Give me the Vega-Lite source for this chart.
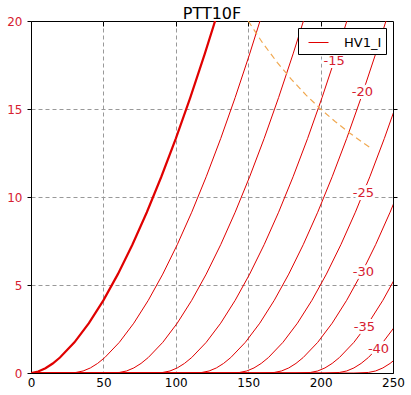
{
  "$schema": "https://vega.github.io/schema/vega-lite/v6.json",
  "width": 362,
  "height": 352,
  "autosize": "none",
  "padding": {"left": 31, "top": 21, "right": 18, "bottom": 22},
  "title": {"text": "PTT10F", "fontSize": 16, "font": "DejaVu Sans", "fontWeight": "normal", "color": "black", "offset": -7},
  "config": {
    "view": {"stroke": "black", "strokeWidth": 1},
    "font": "DejaVu Sans",
    "axis": {"labelFont": "DejaVu Sans", "labelFontSize": 12, "labelFlush": false, "labelOverlap": false, "title": null}
  },
  "datasets": {
    "curves": [
      {"Vg": 0, "Va": 0, "Ia": 0}, {"Vg": 0, "Va": 5, "Ia": 0.084}, {"Vg": 0, "Va": 10, "Ia": 0.272}, {"Vg": 0, "Va": 15, "Ia": 0.54}, {"Vg": 0, "Va": 20, "Ia": 0.878}, {"Vg": 0, "Va": 30, "Ia": 1.741}, {"Vg": 0, "Va": 40, "Ia": 2.831}, {"Vg": 0, "Va": 50, "Ia": 4.129}, {"Vg": 0, "Va": 60, "Ia": 5.618}, {"Vg": 0, "Va": 70, "Ia": 7.29}, {"Vg": 0, "Va": 80, "Ia": 9.135}, {"Vg": 0, "Va": 90, "Ia": 11.15}, {"Vg": 0, "Va": 100, "Ia": 13.32}, {"Vg": 0, "Va": 110, "Ia": 15.65}, {"Vg": 0, "Va": 120, "Ia": 18.13}, {"Vg": 0, "Va": 130, "Ia": 20.75},

      {"Vg": -5, "Va": 0, "Ia": 0}, {"Vg": -5, "Va": 21, "Ia": 0}, {"Vg": -5, "Va": 31, "Ia": 0.031}, {"Vg": -5, "Va": 36, "Ia": 0.115}, {"Vg": -5, "Va": 41, "Ia": 0.287}, {"Vg": -5, "Va": 46, "Ia": 0.545}, {"Vg": -5, "Va": 51, "Ia": 0.88}, {"Vg": -5, "Va": 61, "Ia": 1.741}, {"Vg": -5, "Va": 71, "Ia": 2.831}, {"Vg": -5, "Va": 81, "Ia": 4.129}, {"Vg": -5, "Va": 91, "Ia": 5.618}, {"Vg": -5, "Va": 101, "Ia": 7.29}, {"Vg": -5, "Va": 111, "Ia": 9.135}, {"Vg": -5, "Va": 121, "Ia": 11.15}, {"Vg": -5, "Va": 131, "Ia": 13.32}, {"Vg": -5, "Va": 141, "Ia": 15.65}, {"Vg": -5, "Va": 151, "Ia": 18.13}, {"Vg": -5, "Va": 161, "Ia": 20.75},

      {"Vg": -10, "Va": 0, "Ia": 0}, {"Vg": -10, "Va": 51, "Ia": 0}, {"Vg": -10, "Va": 61, "Ia": 0.031}, {"Vg": -10, "Va": 66, "Ia": 0.115}, {"Vg": -10, "Va": 71, "Ia": 0.287}, {"Vg": -10, "Va": 76, "Ia": 0.545}, {"Vg": -10, "Va": 81, "Ia": 0.88}, {"Vg": -10, "Va": 91, "Ia": 1.741}, {"Vg": -10, "Va": 101, "Ia": 2.831}, {"Vg": -10, "Va": 111, "Ia": 4.129}, {"Vg": -10, "Va": 121, "Ia": 5.618}, {"Vg": -10, "Va": 131, "Ia": 7.29}, {"Vg": -10, "Va": 141, "Ia": 9.135}, {"Vg": -10, "Va": 151, "Ia": 11.15}, {"Vg": -10, "Va": 161, "Ia": 13.32}, {"Vg": -10, "Va": 171, "Ia": 15.65}, {"Vg": -10, "Va": 181, "Ia": 18.13}, {"Vg": -10, "Va": 191, "Ia": 20.75},

      {"Vg": -15, "Va": 0, "Ia": 0}, {"Vg": -15, "Va": 81, "Ia": 0}, {"Vg": -15, "Va": 91, "Ia": 0.031}, {"Vg": -15, "Va": 96, "Ia": 0.115}, {"Vg": -15, "Va": 101, "Ia": 0.287}, {"Vg": -15, "Va": 106, "Ia": 0.545}, {"Vg": -15, "Va": 111, "Ia": 0.88}, {"Vg": -15, "Va": 121, "Ia": 1.741}, {"Vg": -15, "Va": 131, "Ia": 2.831}, {"Vg": -15, "Va": 141, "Ia": 4.129}, {"Vg": -15, "Va": 151, "Ia": 5.618}, {"Vg": -15, "Va": 161, "Ia": 7.29}, {"Vg": -15, "Va": 171, "Ia": 9.135}, {"Vg": -15, "Va": 181, "Ia": 11.15}, {"Vg": -15, "Va": 191, "Ia": 13.32}, {"Vg": -15, "Va": 201, "Ia": 15.65}, {"Vg": -15, "Va": 211, "Ia": 18.13}, {"Vg": -15, "Va": 221, "Ia": 20.75},

      {"Vg": -20, "Va": 0, "Ia": 0}, {"Vg": -20, "Va": 108, "Ia": 0}, {"Vg": -20, "Va": 118, "Ia": 0.031}, {"Vg": -20, "Va": 123, "Ia": 0.115}, {"Vg": -20, "Va": 128, "Ia": 0.287}, {"Vg": -20, "Va": 133, "Ia": 0.545}, {"Vg": -20, "Va": 138, "Ia": 0.88}, {"Vg": -20, "Va": 148, "Ia": 1.741}, {"Vg": -20, "Va": 158, "Ia": 2.831}, {"Vg": -20, "Va": 168, "Ia": 4.129}, {"Vg": -20, "Va": 178, "Ia": 5.618}, {"Vg": -20, "Va": 188, "Ia": 7.29}, {"Vg": -20, "Va": 198, "Ia": 9.135}, {"Vg": -20, "Va": 208, "Ia": 11.15}, {"Vg": -20, "Va": 218, "Ia": 13.32}, {"Vg": -20, "Va": 228, "Ia": 15.65}, {"Vg": -20, "Va": 238, "Ia": 18.13}, {"Vg": -20, "Va": 248, "Ia": 20.75},

      {"Vg": -25, "Va": 0, "Ia": 0}, {"Vg": -25, "Va": 134, "Ia": 0}, {"Vg": -25, "Va": 144, "Ia": 0.031}, {"Vg": -25, "Va": 149, "Ia": 0.115}, {"Vg": -25, "Va": 154, "Ia": 0.287}, {"Vg": -25, "Va": 159, "Ia": 0.545}, {"Vg": -25, "Va": 164, "Ia": 0.88}, {"Vg": -25, "Va": 174, "Ia": 1.741}, {"Vg": -25, "Va": 184, "Ia": 2.831}, {"Vg": -25, "Va": 194, "Ia": 4.129}, {"Vg": -25, "Va": 204, "Ia": 5.618}, {"Vg": -25, "Va": 214, "Ia": 7.29}, {"Vg": -25, "Va": 224, "Ia": 9.135}, {"Vg": -25, "Va": 234, "Ia": 11.15}, {"Vg": -25, "Va": 244, "Ia": 13.32}, {"Vg": -25, "Va": 254, "Ia": 15.65},

      {"Vg": -30, "Va": 0, "Ia": 0}, {"Vg": -30, "Va": 158, "Ia": 0}, {"Vg": -30, "Va": 168, "Ia": 0.031}, {"Vg": -30, "Va": 173, "Ia": 0.115}, {"Vg": -30, "Va": 178, "Ia": 0.287}, {"Vg": -30, "Va": 183, "Ia": 0.545}, {"Vg": -30, "Va": 188, "Ia": 0.88}, {"Vg": -30, "Va": 198, "Ia": 1.741}, {"Vg": -30, "Va": 208, "Ia": 2.831}, {"Vg": -30, "Va": 218, "Ia": 4.129}, {"Vg": -30, "Va": 228, "Ia": 5.618}, {"Vg": -30, "Va": 238, "Ia": 7.29}, {"Vg": -30, "Va": 248, "Ia": 9.135}, {"Vg": -30, "Va": 258, "Ia": 11.15},

      {"Vg": -35, "Va": 0, "Ia": 0}, {"Vg": -35, "Va": 183, "Ia": 0}, {"Vg": -35, "Va": 193, "Ia": 0.031}, {"Vg": -35, "Va": 198, "Ia": 0.115}, {"Vg": -35, "Va": 203, "Ia": 0.287}, {"Vg": -35, "Va": 208, "Ia": 0.545}, {"Vg": -35, "Va": 213, "Ia": 0.88}, {"Vg": -35, "Va": 223, "Ia": 1.741}, {"Vg": -35, "Va": 233, "Ia": 2.831}, {"Vg": -35, "Va": 243, "Ia": 4.129}, {"Vg": -35, "Va": 253, "Ia": 5.618},

      {"Vg": -40, "Va": 0, "Ia": 0}, {"Vg": -40, "Va": 203, "Ia": 0}, {"Vg": -40, "Va": 213, "Ia": 0.031}, {"Vg": -40, "Va": 218, "Ia": 0.115}, {"Vg": -40, "Va": 223, "Ia": 0.287}, {"Vg": -40, "Va": 228, "Ia": 0.545}, {"Vg": -40, "Va": 233, "Ia": 0.88}, {"Vg": -40, "Va": 243, "Ia": 1.741}, {"Vg": -40, "Va": 253, "Ia": 2.831},

      {"Vg": -45, "Va": 0, "Ia": 0}, {"Vg": -45, "Va": 223, "Ia": 0}, {"Vg": -45, "Va": 233, "Ia": 0.031}, {"Vg": -45, "Va": 238, "Ia": 0.115}, {"Vg": -45, "Va": 243, "Ia": 0.287}, {"Vg": -45, "Va": 248, "Ia": 0.545}, {"Vg": -45, "Va": 253, "Ia": 0.88}
    ],
    "limit": [
      {"Va": 150, "Ia": 20}, {"Va": 160, "Ia": 18.75}, {"Va": 170, "Ia": 17.65}, {"Va": 180, "Ia": 16.67}, {"Va": 190, "Ia": 15.79}, {"Va": 200, "Ia": 15}, {"Va": 210, "Ia": 14.29}, {"Va": 220, "Ia": 13.64}, {"Va": 230, "Ia": 13.04}, {"Va": 235, "Ia": 12.77}
    ],
    "labels": [
      {"Va": 209.4, "Ia": 17.73, "label": "-15"},
      {"Va": 228.9, "Ia": 15.94, "label": "-20"},
      {"Va": 229.6, "Ia": 10.23, "label": "-25"},
      {"Va": 229.6, "Ia": 5.74, "label": "-30"},
      {"Va": 230.3, "Ia": 2.6, "label": "-35"},
      {"Va": 240, "Ia": 1.39, "label": "-40"}
    ]
  },
  "layer": [
    {
      "data": {"name": "curves"},
      "transform": [{"filter": "datum.Vg == 0"}],
      "mark": {"type": "line", "strokeWidth": 2.2, "clip": true, "color": "#e00000"},
      "encoding": {
        "x": {"field": "Va", "type": "quantitative", "scale": {"domain": [0, 250], "nice": false, "zero": false},
              "axis": {"orient": "bottom", "values": [50, 100, 150, 200], "labels": false, "ticks": false, "domain": false, "grid": true, "gridDash": [4, 3], "gridColor": "#999999", "gridWidth": 1}},
        "y": {"field": "Ia", "type": "quantitative", "scale": {"domain": [0, 20], "nice": false},
              "axis": {"orient": "left", "values": [5, 10, 15], "labels": false, "ticks": false, "domain": false, "grid": true, "gridDash": [4, 3], "gridColor": "#999999", "gridWidth": 1}}
      }
    },
    {
      "data": {"name": "curves"},
      "transform": [{"filter": "datum.Vg < 0"}],
      "mark": {"type": "line", "strokeWidth": 1, "clip": true},
      "encoding": {
        "x": {"field": "Va", "type": "quantitative", "scale": {"domain": [0, 250], "nice": false, "zero": false},
              "axis": {"orient": "bottom", "values": [0, 50, 100, 150, 200, 250], "grid": false, "ticks": false, "labelPadding": 4, "labelColor": "black", "domainColor": "black", "domainWidth": 1}},
        "y": {"field": "Ia", "type": "quantitative", "scale": {"domain": [0, 20], "nice": false},
              "axis": {"orient": "left", "values": [0, 5, 10, 15, 20], "grid": false, "tickSize": 4, "tickColor": "black", "labelPadding": 5, "labelColor": "#d62030", "domainColor": "black", "domainWidth": 1}},
        "detail": {"field": "Vg"},
        "color": {"datum": "HV1_I", "type": "nominal", "scale": {"range": ["#e00000"]},
                  "legend": {"orient": "top-right", "offset": 7, "title": null, "strokeColor": "black", "fillColor": "white", "padding": 4, "cornerRadius": 0, "labelFontSize": 13, "labelFont": "DejaVu Sans", "labelColor": "black", "symbolType": "stroke", "symbolSize": 400, "symbolStrokeWidth": 1, "symbolOffset": 6, "labelOffset": 15}}
      }
    },
    {
      "data": {"name": "limit"},
      "mark": {"type": "line", "strokeWidth": 1.2, "strokeDash": [6, 4], "color": "#f0a850", "clip": true},
      "encoding": {
        "x": {"field": "Va", "type": "quantitative", "scale": {"domain": [0, 250], "nice": false, "zero": false},
              "axis": {"orient": "top", "values": [50, 100, 150, 200], "labels": false, "domain": false, "grid": false, "tickSize": -5, "tickColor": "black"}},
        "y": {"field": "Ia", "type": "quantitative", "scale": {"domain": [0, 20], "nice": false},
              "axis": {"orient": "right", "values": [5, 10, 15], "labels": false, "domain": false, "grid": false, "tickSize": 4, "tickColor": "black"}}
      }
    },
    {
      "data": {"name": "labels"},
      "mark": {"type": "text", "fontSize": 13, "font": "DejaVu Sans", "stroke": "white", "strokeWidth": 6, "strokeJoin": "round", "fill": "white"},
      "encoding": {
        "x": {"field": "Va", "type": "quantitative", "scale": {"domain": [0, 250], "nice": false, "zero": false}, "axis": null},
        "y": {"field": "Ia", "type": "quantitative", "scale": {"domain": [0, 20], "nice": false}, "axis": null},
        "text": {"field": "label"}
      }
    },
    {
      "data": {"name": "labels"},
      "mark": {"type": "text", "fontSize": 13, "font": "DejaVu Sans", "fill": "#d62030"},
      "encoding": {
        "x": {"field": "Va", "type": "quantitative", "scale": {"domain": [0, 250], "nice": false, "zero": false}, "axis": null},
        "y": {"field": "Ia", "type": "quantitative", "scale": {"domain": [0, 20], "nice": false}, "axis": null},
        "text": {"field": "label"}
      }
    }
  ],
  "resolve": {"axis": {"x": "independent", "y": "independent"}}
}
